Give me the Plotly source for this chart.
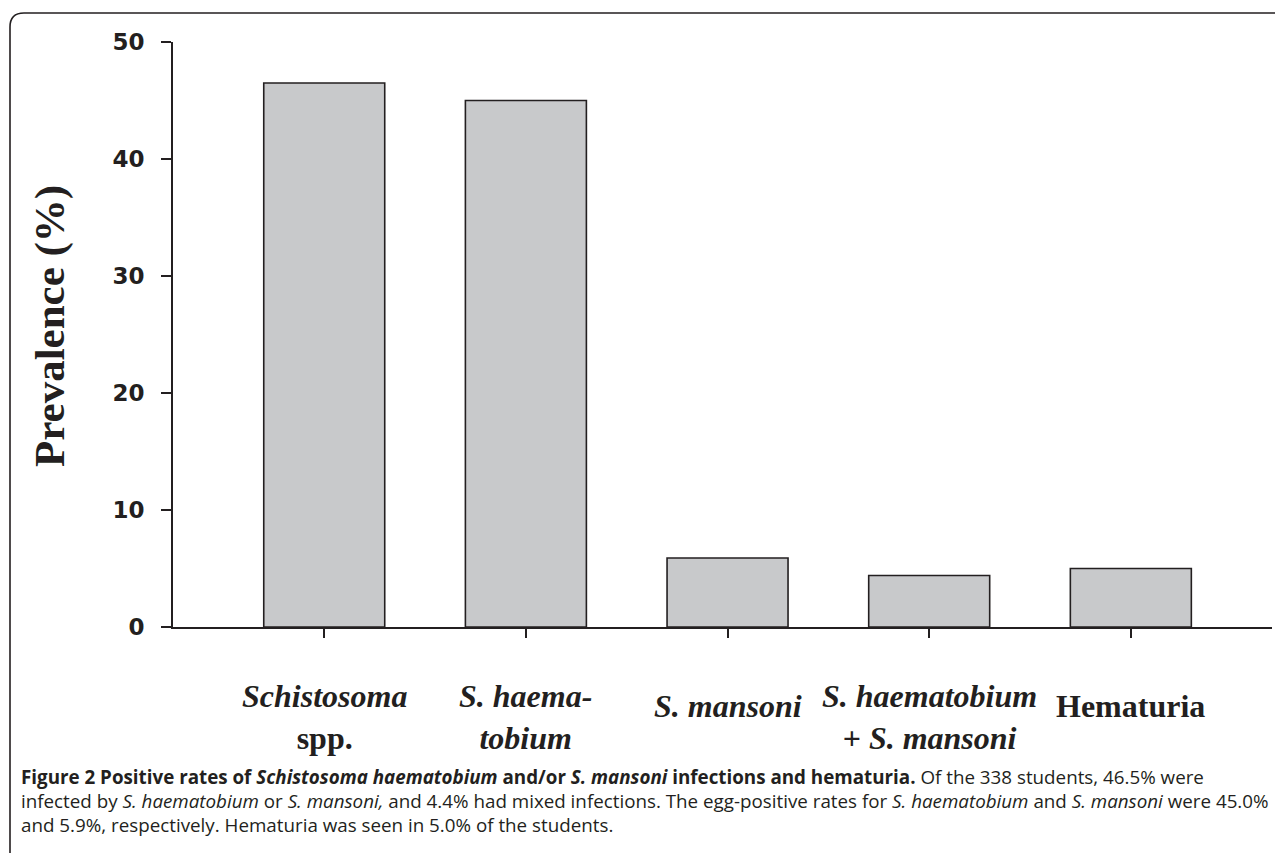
import plotly.graph_objects as go

# ---- data ----
categories = [
    "<i>Schistosoma</i><br>spp.",
    "<i>S. haema-</i><br><i>tobium</i>",
    "<i>S. mansoni</i>",
    "<i>S. haematobium</i><br>+ <i>S. mansoni</i>",
    "Hematuria",
]
prevalence = [46.5, 45.0, 5.9, 4.4, 5.0]
y_ticks = [0, 10, 20, 30, 40, 50]
y_title = "Prevalence (%)"
caption_lines = [
    "<b>Figure 2 Positive rates of <i>Schistosoma haematobium</i> and/or <i>S. mansoni</i> infections and hematuria.</b> Of the 338 students, 46.5% were",
    "infected by <i>S. haematobium</i> or <i>S. mansoni,</i> and 4.4% had mixed infections. The egg-positive rates for <i>S. haematobium</i> and <i>S. mansoni</i> were 45.0%",
    "and 5.9%, respectively. Hematuria was seen in 5.0% of the students.",
]

# ---- geometry (page pixels; the page body adds an 8px offset) ----
OFF = 8
PAGE_W, PAGE_H = 1283, 853
W, H = PAGE_W - OFF, PAGE_H - OFF
L, R, T, B = 173, 1272, 42, 627
pw, ph = R - L, B - T

def px(x):
    return (x - L) / pw

def py(y):
    return (B - y) / ph

INK = "#231f20"

fig = go.Figure()
fig.add_trace(go.Bar(
    x=categories, y=prevalence, width=0.6,
    marker=dict(color="#c8c9cb", line=dict(color=INK, width=1.6)),
    showlegend=False, hoverinfo="skip",
))

fig.update_layout(
    width=W, height=H, autosize=False,
    margin=dict(l=L - OFF, r=PAGE_W - R, t=T - OFF, b=PAGE_H - B, pad=0),
    paper_bgcolor="white", plot_bgcolor="white",
    xaxis=dict(
        type="category", range=[-0.75, 4.7],
        showline=True, linecolor=INK, linewidth=2,
        ticks="outside", ticklen=9, tickwidth=1.6, tickcolor=INK,
        showticklabels=False, showgrid=False, zeroline=False, fixedrange=True,
    ),
    yaxis=dict(
        range=[0, 50], tickvals=y_ticks,
        showline=True, linecolor=INK, linewidth=1.8,
        ticks="outside", ticklen=10, tickwidth=1.6, tickcolor=INK,
        ticklabelstandoff=12,
        tickfont=dict(family="DejaVu Sans", size=23, color=INK, weight="bold"),
        showgrid=False, zeroline=False, fixedrange=True,
    ),
)

# category labels beneath the axis
for cat in categories:
    multi = "<br>" in cat
    fig.add_annotation(
        x=cat, xref="x", y=py(676 if multi else 686), yref="paper",
        text="<b>" + cat + "</b>", showarrow=False,
        xanchor="center", yanchor="top", align="center",
        font=dict(family="Liberation Serif", size=32, color=INK, weight="bold"),
    )

# y axis title
fig.add_annotation(
    x=px(50), xref="paper", y=py(326), yref="paper",
    text="<b>" + y_title + "</b>", textangle=-90, showarrow=False,
    xanchor="center", yanchor="middle",
    font=dict(family="Liberation Serif", size=43, color=INK, weight="bold"),
)

# caption
for i, line in enumerate(caption_lines):
    fig.add_annotation(
        x=px(19), xref="paper", y=py(777 + 24 * i), yref="paper",
        text=line, showarrow=False, xanchor="left", yanchor="middle", align="left",
        font=dict(family="Open Sans", size=18.8, color=INK),
    )

# rounded frame (left + top edges visible)
x0, xr = px(10), px(1300)
yt, yb = py(13), py(880)
rx, ry = 14 / pw, 14 / ph
fig.add_shape(
    type="path", xref="paper", yref="paper",
    path=f"M {x0},{yb} L {x0},{yt - ry} Q {x0},{yt} {x0 + rx},{yt} L {xr},{yt}",
    line=dict(color=INK, width=1.6),
)

fig.write_html("out.html")
